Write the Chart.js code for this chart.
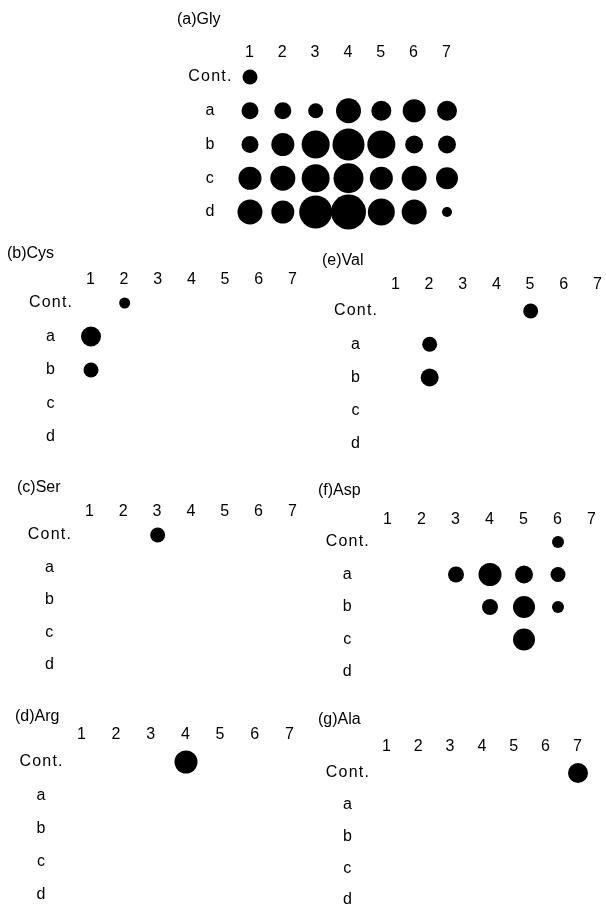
<!DOCTYPE html>
<html>
<head>
<meta charset="utf-8">
<script src="https://cdn.jsdelivr.net/npm/chart.js@4/dist/chart.umd.min.js"></script>
<style>
  html, body { margin: 0; padding: 0; background: #fff; }
  #wrap { position: relative; width: 606px; height: 908px; overflow: hidden; }
  #wrap canvas { position: absolute; }
</style>
</head>
<body>
<div id="wrap"></div>
<script>
const columns = [1, 2, 3, 4, 5, 6, 7];
const rows = ["Cont.", "a", "b", "c", "d"];

// spot diameter, one list per row (Cont., a, b, c, d); 0 = no spot
const gly = [
  [15, 0, 0, 0, 0, 0, 0],
  [17, 17, 15, 25, 20, 23, 20],
  [17, 23, 28, 32, 28, 18, 18],
  [23, 25, 28, 30, 23, 25, 22],
  [25, 23, 33, 35, 27, 25, 10]
];
const cys = [
  [0, 11, 0, 0, 0, 0, 0],
  [20, 0, 0, 0, 0, 0, 0],
  [15, 0, 0, 0, 0, 0, 0],
  [0, 0, 0, 0, 0, 0, 0],
  [0, 0, 0, 0, 0, 0, 0]
];
const ser = [
  [0, 0, 15, 0, 0, 0, 0],
  [0, 0, 0, 0, 0, 0, 0],
  [0, 0, 0, 0, 0, 0, 0],
  [0, 0, 0, 0, 0, 0, 0],
  [0, 0, 0, 0, 0, 0, 0]
];
const arg = [
  [0, 0, 0, 23, 0, 0, 0],
  [0, 0, 0, 0, 0, 0, 0],
  [0, 0, 0, 0, 0, 0, 0],
  [0, 0, 0, 0, 0, 0, 0],
  [0, 0, 0, 0, 0, 0, 0]
];
const val = [
  [0, 0, 0, 0, 15, 0, 0],
  [0, 15, 0, 0, 0, 0, 0],
  [0, 18, 0, 0, 0, 0, 0],
  [0, 0, 0, 0, 0, 0, 0],
  [0, 0, 0, 0, 0, 0, 0]
];
const asp = [
  [0, 0, 0, 0, 0, 12, 0],
  [0, 0, 16, 23, 18, 15, 0],
  [0, 0, 0, 16, 22, 12, 0],
  [0, 0, 0, 0, 22, 0, 0],
  [0, 0, 0, 0, 0, 0, 0]
];
const ala = [
  [0, 0, 0, 0, 0, 0, 20],
  [0, 0, 0, 0, 0, 0, 0],
  [0, 0, 0, 0, 0, 0, 0],
  [0, 0, 0, 0, 0, 0, 0],
  [0, 0, 0, 0, 0, 0, 0]
];

// where each panel sits on the page
const panels = [
  { title: "(a)Gly", spots: gly, tx: 177, ty: 20,  ly: 51,  cx1: 250, cx7: 447, ry0: 77,  ry4: 212 },
  { title: "(b)Cys", spots: cys, tx: 7,   ty: 254, ly: 278, cx1: 91,  cx7: 293, ry0: 303, ry4: 437 },
  { title: "(c)Ser", spots: ser, tx: 17,  ty: 488, ly: 510, cx1: 90,  cx7: 293, ry0: 535, ry4: 665 },
  { title: "(d)Arg", spots: arg, tx: 15,  ty: 717, ly: 733, cx1: 82,  cx7: 290, ry0: 762, ry4: 895 },
  { title: "(e)Val", spots: val, tx: 322, ty: 261, ly: 283, cx1: 396, cx7: 598, ry0: 311, ry4: 444 },
  { title: "(f)Asp", spots: asp, tx: 318, ty: 491, ly: 518, cx1: 388, cx7: 592, ry0: 542, ry4: 672 },
  { title: "(g)Ala", spots: ala, tx: 318, ty: 720, ly: 745, cx1: 387, cx7: 578, ry0: 773, ry4: 900 }
];

const FAMILY = "'Liberation Sans', Arial, sans-serif";
const FONT = { family: FAMILY, size: 16, lineHeight: 1.2 };
const wrap = document.getElementById('wrap');

// panel caption, drawn at a fixed spot of the canvas
const panelTitle = {
  id: 'panelTitle',
  beforeDraw(chart) {
    chart.ctx.letterSpacing = '1.2px';
  },
  afterDraw(chart, args, opts) {
    const ctx = chart.ctx;
    ctx.save();
    ctx.letterSpacing = '0px';
    ctx.font = '16px ' + FAMILY;
    ctx.fillStyle = '#000';
    ctx.textAlign = 'left';
    ctx.textBaseline = 'middle';
    ctx.fillText(opts.text, opts.x, opts.y);
    ctx.restore();
  }
};

function drawPanel(p) {
  const sx = (p.cx7 - p.cx1) / 6, sy = (p.ry4 - p.ry0) / 4;
  const left = p.tx - 4, top = Math.min(p.ty, p.ly) - 14;
  const areaL = p.cx1 - sx / 2, areaR = p.cx7 + sx / 2;
  const areaT = p.ly + 13.6;
  const areaB = p.ry4 + sy / 2;
  const yMin = -(p.ry0 - areaT) / sy;

  const cv = document.createElement('canvas');
  const W = Math.ceil(areaR - left + 20), H = Math.ceil(areaB - top + 20);
  cv.width = W; cv.height = H;
  cv.style.left = left + 'px'; cv.style.top = top + 'px';
  wrap.appendChild(cv);

  const pts = [];
  p.spots.forEach((row, j) => row.forEach((d, i) => {
    if (d > 0) pts.push({ x: columns[i], y: j, r: d / 2 });
  }));

  new Chart(cv, {
    type: 'bubble',
    data: { datasets: [{ data: pts, backgroundColor: '#000', borderWidth: 0, clip: false }] },
    plugins: [panelTitle],
    options: {
      responsive: false,
      animation: false,
      events: [],
      layout: { padding: { left: 0, top: 0, right: W - (areaR - left), bottom: H - (areaB - top) } },
      plugins: {
        legend: { display: false },
        tooltip: { enabled: false },
        title: { display: false },
        panelTitle: { text: p.title, x: p.tx - left, y: p.ty - top }
      },
      scales: {
        x: {
          type: 'linear', position: 'top', min: 0.5, max: 7.5,
          grid: { display: false, drawTicks: false }, border: { display: false },
          ticks: { color: '#000', font: FONT, padding: 2, maxRotation: 0, autoSkip: false },
          afterBuildTicks: s => { s.ticks = columns.map(v => ({ value: v })); },
          afterFit: s => { s.height = areaT - top; }
        },
        y: {
          type: 'linear', reverse: true, min: yMin, max: 4.5,
          grid: { display: false, drawTicks: false }, border: { display: false },
          ticks: { color: '#000', font: FONT, padding: 4, crossAlign: 'center', callback: v => rows[v] },
          afterBuildTicks: s => { s.ticks = rows.map((_, i) => ({ value: i })); },
          afterFit: s => { s.width = areaL - left; }
        }
      }
    }
  });
}

panels.forEach(drawPanel);
</script>
</body>
</html>
